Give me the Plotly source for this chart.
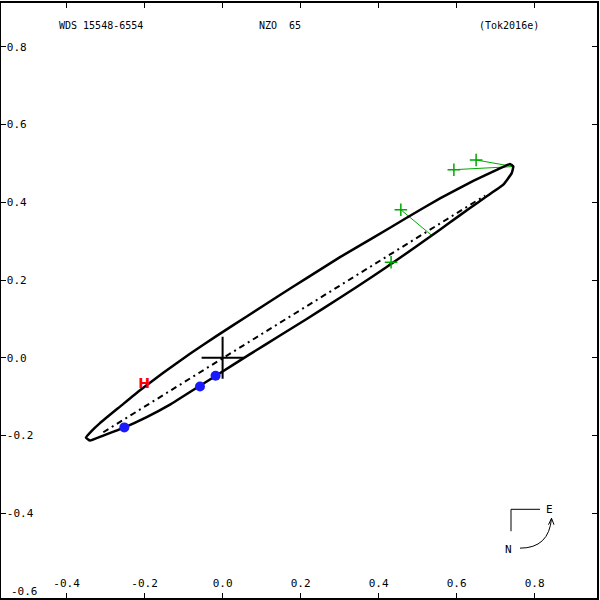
import plotly.graph_objects as go

# ---- data ----
orbit_x = [-0.3503, -0.3349, -0.3144, -0.2631, -0.2118, -0.1521, -0.0836, -0.0151, 0.0618,
           0.1472, 0.2156, 0.3010, 0.3864, 0.4721, 0.5574, 0.6428, 0.7028, 0.7369, 0.7454,
           0.7413, 0.7197, 0.6772, 0.6344, 0.5746, 0.5362, 0.4549, 0.3864, 0.3010,
           0.2156, 0.1472, 0.0703, -0.0151, -0.0579, -0.1349, -0.1946, -0.2528,
           -0.3059, -0.3400, -0.3503]
orbit_y = [-0.2051, -0.1872, -0.1679, -0.1256, -0.0833, -0.0385, 0.0103, 0.0564, 0.1064,
           0.1615, 0.2051, 0.2590, 0.3090, 0.3603, 0.4103, 0.4551, 0.4833, 0.4987, 0.4923,
           0.4751, 0.4454, 0.4154, 0.3854, 0.3423, 0.3146, 0.2572, 0.2103, 0.1546,
           0.1000, 0.0574, 0.0095, -0.0449, -0.0718, -0.1205, -0.1526, -0.1795,
           -0.2000, -0.2128, -0.2051]

nodes_x = [-0.3059, 0.6728]
nodes_y = [-0.1915, 0.4172]

obs_green_x = [0.650, 0.593, 0.457, 0.432]
obs_green_y = [0.509, 0.484, 0.381, 0.246]
pred_green_x = [0.745, 0.745, 0.536, 0.416]
pred_green_y = [0.492, 0.492, 0.315, 0.231]

obs_blue_x = [-0.252, -0.058, -0.018]
obs_blue_y = [-0.179, -0.074, -0.046]

hip_x = [-0.2015]
hip_y = [-0.069]

primary_x = [0.0]
primary_y = [0.0]

tick_vals = [-0.6, -0.4, -0.2, 0.0, 0.2, 0.4, 0.6, 0.8]
tick_text = ["-0.6", "-0.4", "-0.2", "0.0", "0.2", "0.4", "0.6", "0.8"]

title_left = "WDS 15548-6554"
title_mid = "NZO  65"
title_right = "(Tok2016e)"

FONT = "DejaVu Sans Mono"
GREEN = "#00a800"

fig = go.Figure()

# residual lines
rx, ry = [], []
for ox, oy, qx, qy in zip(obs_green_x, obs_green_y, pred_green_x, pred_green_y):
    rx += [ox, qx, None]
    ry += [oy, qy, None]
fig.add_trace(go.Scatter(x=rx, y=ry, mode="lines", line=dict(color=GREEN, width=1),
                         hoverinfo="skip", showlegend=False))

# orbit
fig.add_trace(go.Scatter(x=orbit_x, y=orbit_y, mode="lines",
                         line=dict(color="black", width=2.5, shape="spline", smoothing=0.3),
                         showlegend=False))

# line of nodes
fig.add_trace(go.Scatter(x=nodes_x, y=nodes_y, mode="lines",
                         line=dict(color="black", width=2, dash="6px,4px,2px,4px"),
                         showlegend=False))

# green observations
fig.add_trace(go.Scatter(x=obs_green_x, y=obs_green_y, mode="markers",
                         marker=dict(symbol="cross-thin", size=9, line=dict(color=GREEN, width=1.5)),
                         showlegend=False))

# blue observations
fig.add_trace(go.Scatter(x=obs_blue_x, y=obs_blue_y, mode="markers",
                         marker=dict(symbol="circle", size=10, color="#1a1aff"),
                         showlegend=False))

# Hipparcos
fig.add_trace(go.Scatter(x=hip_x, y=hip_y, mode="text", text=["<b>H</b>"],
                         textfont=dict(color="red", size=14, family="DejaVu Sans"),
                         showlegend=False))

# primary
fig.add_trace(go.Scatter(x=primary_x, y=primary_y, mode="markers",
                         marker=dict(symbol="cross-thin", size=30, line=dict(color="black", width=2)),
                         showlegend=False))

# pixel -> paper helpers for decorations
def px(p):
    return (p - 1) / 596.0

def py(p):
    return (598 - p) / 597.0

shapes = [
    dict(type="line", xref="paper", yref="paper", x0=px(511), y0=py(509), x1=px(511), y1=py(531),
         line=dict(color="black", width=1)),
    dict(type="line", xref="paper", yref="paper", x0=px(511), y0=py(509), x1=px(540), y1=py(509),
         line=dict(color="black", width=1)),
    dict(type="path", xref="paper", yref="paper",
         path=f"M {px(520)},{py(548)} Q {px(549)},{py(548)} {px(551.5)},{py(518)}",
         line=dict(color="black", width=1)),
    dict(type="line", xref="paper", yref="paper", x0=px(551.5), y0=py(518), x1=px(548.5), y1=py(524.5),
         line=dict(color="black", width=1)),
    dict(type="line", xref="paper", yref="paper", x0=px(551.5), y0=py(518), x1=px(554), y1=py(524.5),
         line=dict(color="black", width=1)),
]

ann_font = dict(family=FONT, size=10, color="black")
lab_font = dict(family=FONT, size=11, color="black")


def ann(text, x, y, font=ann_font):
    return dict(text=text, x=px(x), y=py(y), xref="paper", yref="paper", showarrow=False,
                xanchor="center", yanchor="middle", font=font)


annotations = [
    ann(title_left, 101, 24),
    ann(title_mid, 280, 24),
    ann(title_right, 509, 24),
    ann("E", 549, 509, lab_font),
    ann("N", 508, 549, lab_font),
    # y tick label at the bottom corner (Plotly hides inside labels that touch the frame)
    dict(text=tick_text[0], x=px(9), y=-0.6, xref="paper", yref="y", xanchor="left",
         yanchor="middle", showarrow=False, font=lab_font),
]

axis_common = dict(
    tickvals=tick_vals, ticktext=tick_text, ticks="inside", ticklen=5, tickwidth=1,
    tickcolor="black", ticklabelposition="inside", showgrid=False, zeroline=False,
    showline=True, linecolor="black", linewidth=2, mirror="ticks",
    tickfont=lab_font,
)

fig.update_layout(
    width=600, height=600,
    margin=dict(l=1, r=3, t=1, b=2),
    paper_bgcolor="white", plot_bgcolor="white",
    xaxis=dict(range=[-0.5682, 0.9600], ticklabelstandoff=3, **axis_common),
    yaxis=dict(range=[-0.6179, 0.9128], **axis_common),
    shapes=shapes, annotations=annotations, showlegend=False,
)

fig.write_html("out.html", config={"displayModeBar": False},
               post_script="document.body.style.margin='0';")
